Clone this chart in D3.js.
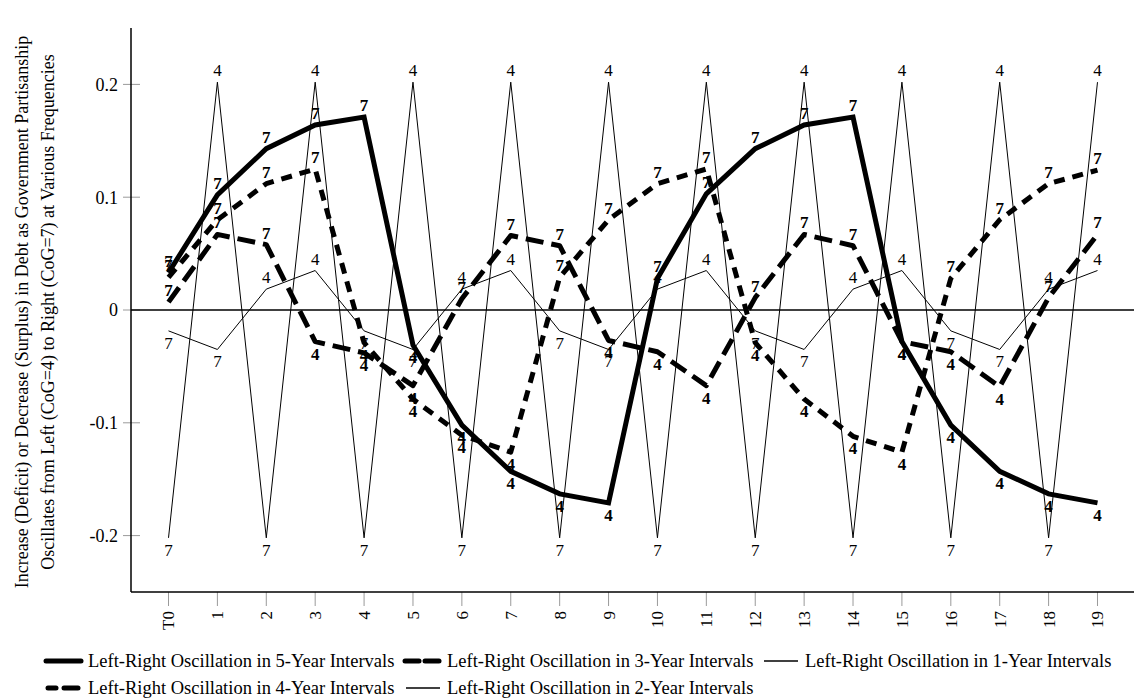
<!DOCTYPE html>
<html>
<head>
<meta charset="utf-8">
<script src="https://cdn.jsdelivr.net/npm/d3@7"></script>
<style>
  html, body { margin: 0; padding: 0; background: #fff; }
  svg { display: block; font-family: "Liberation Serif", "Times New Roman", serif; }
</style>
</head>
<body>
<svg id="chart" width="1134" height="698"></svg>
<script>
// ---------------- data ----------------
const categories = ["T0","1","2","3","4","5","6","7","8","9","10","11","12","13","14","15","16","17","18","19"];
const yTicks = [-0.2, -0.1, 0, 0.1, 0.2];
const yTickLabels = ["-0.2", "-0.1", "0", "0.1", "0.2"];

const osc5 = [0.033, 0.102, 0.143, 0.164, 0.171, -0.031, -0.102, -0.143, -0.163, -0.171,
              0.028, 0.103, 0.143, 0.164, 0.171, -0.028, -0.102, -0.143, -0.163, -0.171];
const cog5 = [7,7,7,7,7,4,4,4,4,4,7,7,7,7,7,4,4,4,4,4];

const osc4 = [0.029, 0.080, 0.112, 0.125, -0.029, -0.079, -0.111, -0.126, 0.029, 0.080,
              0.112, 0.125, -0.029, -0.079, -0.112, -0.126, 0.028, 0.080, 0.112, 0.124];
const cog4 = [7,7,7,7,4,4,4,4,7,7,7,7,4,4,4,4,7,7,7,7];

const osc3 = [0.007, 0.067, 0.058, -0.028, -0.038, -0.067, 0.010, 0.066, 0.057, -0.027,
              -0.037, -0.067, 0.011, 0.067, 0.057, -0.028, -0.037, -0.068, 0.011, 0.067];
const cog3 = [7,7,7,4,4,4,7,7,7,4,4,4,7,7,7,4,4,4,7,7];

const osc2 = [-0.0185, -0.035, 0.0185, 0.035, -0.0185, -0.035, 0.0185, 0.035, -0.0185, -0.035,
              0.0185, 0.035, -0.0185, -0.035, 0.0185, 0.035, -0.0185, -0.035, 0.0185, 0.035];
const cog2 = [7,7,4,4,7,7,4,4,7,7,4,4,7,7,4,4,7,7,4,4];

const osc1 = [-0.202, 0.202, -0.202, 0.202, -0.202, 0.202, -0.202, 0.202, -0.202, 0.202,
              -0.202, 0.202, -0.202, 0.202, -0.202, 0.202, -0.202, 0.202, -0.202, 0.202];
const cog1 = [7,4,7,4,7,4,7,4,7,4,7,4,7,4,7,4,7,4,7,4];

const seriesNames = [
  "Left-Right Oscillation in 5-Year Intervals",
  "Left-Right Oscillation in 3-Year Intervals",
  "Left-Right Oscillation in 1-Year Intervals",
  "Left-Right Oscillation in 4-Year Intervals",
  "Left-Right Oscillation in 2-Year Intervals"
];
const yTitle1 = "Increase (Deficit) or Decrease (Surplus) in Debt as Government Partisanship";
const yTitle2 = "Oscillates from Left (CoG=4) to Right (CoG=7) at Various Frequencies";

// ---------------- styles ----------------
const styles = {
  s5: { width: 5, dash: null, bold: true },
  s3: { width: 5, dash: "18,8", bold: true },
  s1: { width: 1, dash: null, bold: false },
  s4: { width: 5, dash: "11,8", bold: true },
  s2: { width: 1, dash: null, bold: false }
};

const series = [
  { key: "s1", values: osc1, cog: cog1 },
  { key: "s2", values: osc2, cog: cog2 },
  { key: "s3", values: osc3, cog: cog3 },
  { key: "s4", values: osc4, cog: cog4 },
  { key: "s5", values: osc5, cog: cog5 }
];

// ---------------- layout ----------------
const svg = d3.select("#chart");
const pLeft = 131, pRight = 1134, pTop = 28, pBottom = 592;

const x = d3.scalePoint().domain(categories).range([pLeft, 1135]).padding(0.767);
const y = d3.scaleLinear().domain([-0.25, 0.25]).range([pBottom, pTop]);

// y ticks
const yAxis = svg.append("g");
yTicks.forEach((t, i) => {
  yAxis.append("line")
    .attr("x1", pLeft - 8).attr("x2", pLeft + 9)
    .attr("y1", y(t)).attr("y2", y(t))
    .attr("stroke", "#9a9a9a").attr("stroke-width", 1);
  yAxis.append("text")
    .attr("x", pLeft - 13).attr("y", y(t))
    .attr("dy", "0.35em")
    .attr("text-anchor", "end")
    .attr("font-size", 18)
    .text(yTickLabels[i]);
});

// x ticks
const xAxis = svg.append("g");
categories.forEach(c => {
  xAxis.append("line")
    .attr("x1", x(c)).attr("x2", x(c))
    .attr("y1", pBottom).attr("y2", pBottom + 14)
    .attr("stroke", "#9a9a9a").attr("stroke-width", 1);
  xAxis.append("text")
    .attr("transform", `translate(${x(c)},${pBottom + 19}) rotate(-90)`)
    .attr("text-anchor", "end")
    .attr("dy", "0.35em")
    .attr("font-size", 17)
    .text(c);
});

// axis lines
svg.append("line").attr("x1", pLeft).attr("x2", pLeft).attr("y1", pTop).attr("y2", pBottom)
  .attr("stroke", "#000").attr("stroke-width", 1.5);
svg.append("line").attr("x1", pLeft).attr("x2", pRight).attr("y1", pBottom).attr("y2", pBottom)
  .attr("stroke", "#000").attr("stroke-width", 1.5);
svg.append("line").attr("x1", pLeft).attr("x2", pRight).attr("y1", y(0)).attr("y2", y(0))
  .attr("stroke", "#000").attr("stroke-width", 1.5);

// lines
const line = d3.line().x((d, i) => x(categories[i])).y(d => y(d));
const gLines = svg.append("g");
series.forEach(s => {
  const st = styles[s.key];
  gLines.append("path")
    .attr("d", line(s.values))
    .attr("fill", "none")
    .attr("stroke", "#000")
    .attr("stroke-width", st.width)
    .attr("stroke-linejoin", st.dash ? "round" : "miter")
    .attr("stroke-dasharray", st.dash);
});

// point labels
const gLabels = svg.append("g");
series.forEach(s => {
  const st = styles[s.key];
  s.values.forEach((v, i) => {
    gLabels.append("text")
      .attr("x", x(categories[i]))
      .attr("y", v >= 0 ? y(v) - 6 : y(v) + 18)
      .attr("text-anchor", "middle")
      .attr("font-size", 17)
      .attr("font-weight", st.bold ? "bold" : "normal")
      .text(s.cog[i]);
  });
});

// y title
const gTitle = svg.append("g").attr("font-size", 18);
gTitle.append("text")
  .attr("transform", `translate(28,312) rotate(-90)`)
  .attr("text-anchor", "middle").text(yTitle1);
gTitle.append("text")
  .attr("transform", `translate(54,312) rotate(-90)`)
  .attr("text-anchor", "middle").text(yTitle2);

// legend
const legendItems = [
  { key: "s5", name: seriesNames[0], tx: 88, y: 661, swatch: [[46, 81]] },
  { key: "s3", name: seriesNames[1], tx: 447, y: 661, swatch: [[405, 419], [425, 439]] },
  { key: "s1", name: seriesNames[2], tx: 805, y: 661, swatch: [[764, 798]] },
  { key: "s4", name: seriesNames[3], tx: 88, y: 688, swatch: [[48, 56], [64, 78]] },
  { key: "s2", name: seriesNames[4], tx: 447, y: 688, swatch: [[406, 440]] }
];
const gLeg = svg.append("g");
legendItems.forEach(it => {
  const st = styles[it.key];
  it.swatch.forEach(seg => {
    gLeg.append("line")
      .attr("x1", seg[0]).attr("x2", seg[1])
      .attr("y1", it.y).attr("y2", it.y)
      .attr("stroke", "#000")
      .attr("stroke-width", st.width === 1 ? 1.5 : 5)
      .attr("stroke-linecap", st.width === 1 ? "butt" : "round");
  });
  gLeg.append("text")
    .attr("x", it.tx).attr("y", it.y)
    .attr("dy", "0.35em")
    .attr("font-size", 18.5)
    .text(it.name);
});
</script>
</body>
</html>
